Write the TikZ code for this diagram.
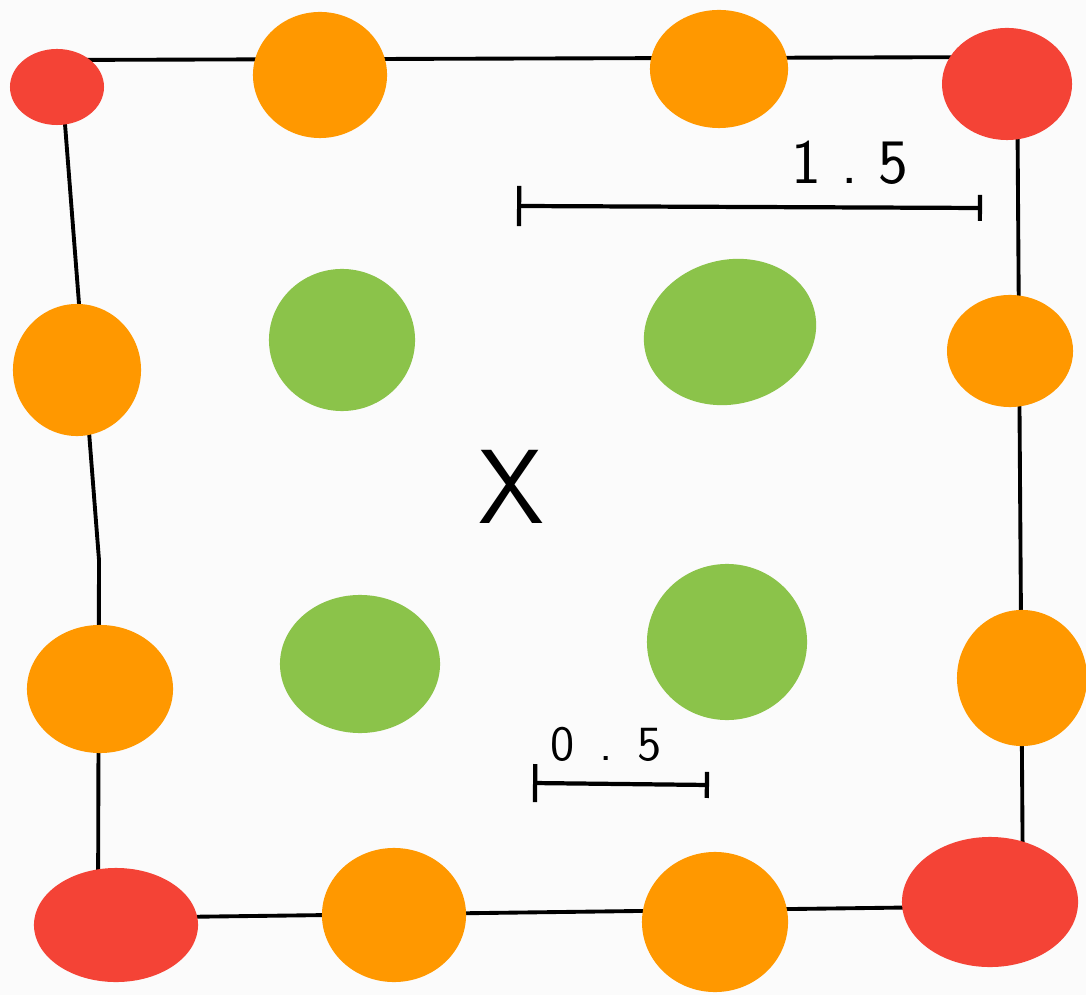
\documentclass[tikz,border=0pt]{standalone}
\usepackage{amsmath,amssymb}
\usetikzlibrary{shapes.geometric,arrows.meta}
\definecolor{dotred}{RGB}{244,67,54}
\definecolor{dotorange}{RGB}{255,152,0}
\definecolor{dotgreen}{RGB}{139,195,74}
\definecolor{paper}{RGB}{251,251,251}
\tikzset{blob/.style n args={3}{ellipse,inner sep=0pt,fill=#1,minimum width=#2,minimum height=#3},
         frame/.style={black,line width=1.1pt,line join=round},
         scalebar/.style={black,line width=1.2pt}}
\begin{document}
\begin{tikzpicture}[x=0.01cm,y=-0.01cm,font=\sffamily]
                        \fill[paper] (0,0) rectangle (1086,995);
                        \useasboundingbox (0,0) rectangle (1086,995);
                        \coordinate (ctl) at (60,60);
                        \coordinate (ctr) at (1017,57);
                        \coordinate (cbr) at (1023,906);
                        \coordinate (cbl) at (98,918);
                        \coordinate (cleft) at (99,560);
                        \draw [frame] (ctl)--(ctr)--(cbr)--(cbl)--(cleft)--(ctl);
                        \node [blob={dotred}{0.94cm}{0.76cm}] (tl) at (57,87) {};
                        \node [blob={dotred}{1.30cm}{1.12cm}] (tr) at (1007,84) {};
                        \node [blob={dotred}{1.76cm}{1.30cm}] (br) at (990,902) {};
                        \node [blob={dotred}{1.64cm}{1.14cm}] (bl) at (116,925) {};
                        \node [blob={dotorange}{1.34cm}{1.26cm}] (top1) at (320,75) {};
                        \node [blob={dotorange}{1.38cm}{1.18cm}] (top2) at (719,69) {};
                        \node [blob={dotorange}{1.28cm}{1.32cm}] (left1) at (77,370) {};
                        \node [blob={dotorange}{1.46cm}{1.28cm}] (left2) at (100,689) {};
                        \node [blob={dotorange}{1.26cm}{1.12cm}] (right1) at (1010,351) {};
                        \node [blob={dotorange}{1.30cm}{1.36cm}] (right2) at (1022,678) {};
                        \node [blob={dotorange}{1.44cm}{1.34cm}] (bot1) at (394,915) {};
                        \node [blob={dotorange}{1.46cm}{1.40cm}] (bot2) at (715,922) {};
                        \node [blob={dotgreen}{1.46cm}{1.42cm}] (in1) at (342,340) {};
                        \node [blob={dotgreen}{1.74cm}{1.44cm},rotate=15] (in2) at (730,332) {};
                        \node [blob={dotgreen}{1.60cm}{1.38cm}] (in3) at (360,664) {};
                        \node [blob={dotgreen}{1.60cm}{1.56cm}] (in4) at (727,642) {};
                        \node (cross) at (511,487) {\fontsize{30}{30}\selectfont X};
                        \coordinate (longl) at (517,206);
                        \coordinate (longr) at (982,208);
                        \draw [scalebar,{Bar[width=4mm]}-{Bar[width=2.6mm]}] (longl)--(longr);
                        \node (longlabel) at (850,163) {\fontsize{18}{18}\selectfont 1\kern2mm.\kern2mm5};
                        \coordinate (shortl) at (533,783);
                        \coordinate (shortr) at (709,785);
                        \draw [scalebar,{Bar[width=3.8mm]}-{Bar[width=2.6mm]}] (shortl)--(shortr);
                        \node (shortlabel) at (606,744) {\fontsize{14}{14}\selectfont 0\kern2.5mm.\kern2.5mm5};
                    \end{tikzpicture}
\end{document}
